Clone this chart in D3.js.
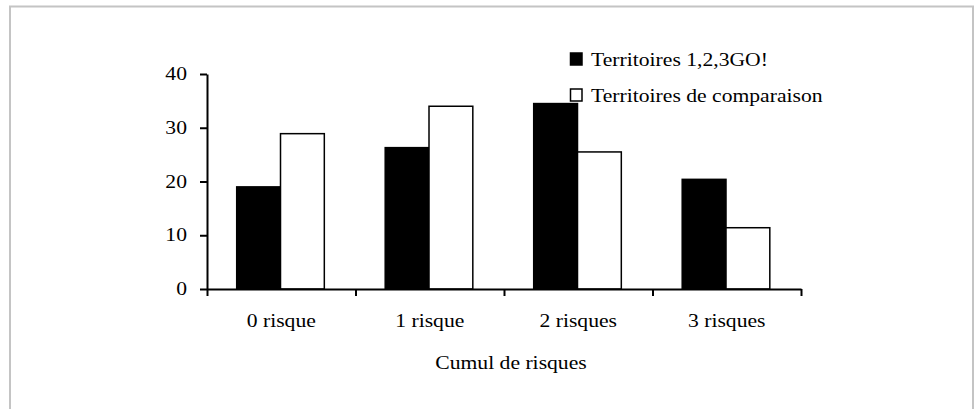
<!DOCTYPE html>
<html>
<head>
<meta charset="utf-8">
<script src="https://cdn.jsdelivr.net/npm/d3@7"></script>
<style>
  html, body { margin: 0; padding: 0; background: #fff; }
  svg text { font-family: "Liberation Serif", "Times New Roman", serif; fill: #000; }
</style>
</head>
<body>
<svg id="chart" width="976" height="409"></svg>
<script>
const categories = ["0 risque", "1 risque", "2 risques", "3 risques"];
const seriesNames = ["Territoires 1,2,3GO!", "Territoires de comparaison"];
const territoires123GO = [19, 26.3, 34.5, 20.4];
const territoiresComparaison = [28.9, 34, 25.5, 11.4];
const yTicks = [0, 10, 20, 30, 40];
const xTitle = "Cumul de risques";

(function () {
const seriesValues = [territoires123GO, territoiresComparaison];
const fills = ["#000", "#fff"];
const FS = 18.5, SX = 1.17;

const svg = d3.select("#chart");

// frame
svg.append("rect").attr("x", 10).attr("y", 6.5).attr("width", 963).attr("height", 500)
  .attr("fill", "none").attr("stroke", "#c4c4c4").attr("stroke-width", 2);

const pLeft = 207, pRight = 801, pTop = 74, pBottom = 289;
const x0 = d3.scaleBand().domain(categories).range([pLeft, pRight]).padding(0);
const bw = x0.bandwidth();
const x1 = d3.scaleBand().domain(seriesNames).range([0.2 * bw, 0.79 * bw]).padding(0);
const y = d3.scaleLinear().domain([0, 40]).range([pBottom, pTop]);

// bars
const groups = svg.append("g").selectAll("g").data(categories).join("g")
  .attr("transform", d => `translate(${x0(d)},0)`);
groups.selectAll("rect")
  .data((c, i) => seriesNames.map((s, j) => ({ s, v: seriesValues[j][i], j })))
  .join("rect")
  .attr("x", d => x1(d.s))
  .attr("width", x1.bandwidth())
  .attr("y", d => y(d.v))
  .attr("height", d => y(0) - y(d.v))
  .attr("fill", d => fills[d.j])
  .attr("stroke", "#000").attr("stroke-width", 1.5);

// y axis
const yAxis = svg.append("g").attr("transform", `translate(${pLeft},0)`)
  .call(d3.axisLeft(y).tickValues(yTicks).tickSizeInner(7).tickSizeOuter(0).tickPadding(13).tickFormat(d3.format("d")));
yAxis.select(".domain").attr("stroke", "#000").attr("stroke-width", 2);
yAxis.selectAll(".tick line").attr("stroke", "#000").attr("stroke-width", 2);
yAxis.selectAll("text").attr("font-size", FS).attr("font-family", "Liberation Serif").attr("fill", "#000")
  .attr("dy", "0.3em")
  .each(function () {
    const t = d3.select(this); const x = +t.attr("x");
    t.attr("transform", `translate(${x},0) scale(${SX},1) translate(${-x},0)`);
  });

// x axis ticks at band boundaries
const xb = d3.scaleLinear().domain([0, categories.length]).range([pLeft, pRight]);
const xTickAxis = svg.append("g").attr("transform", `translate(0,${pBottom})`)
  .call(d3.axisBottom(xb).tickValues(d3.range(categories.length + 1)).tickSizeInner(7).tickSizeOuter(0).tickFormat(""));
xTickAxis.select(".domain").attr("stroke", "#000").attr("stroke-width", 2);
xTickAxis.selectAll(".tick line").attr("stroke", "#000").attr("stroke-width", 2);

// x labels
const xLab = svg.append("g").attr("transform", `translate(0,${pBottom})`)
  .call(d3.axisBottom(x0).tickSize(0).tickPadding(32));
xLab.select(".domain").remove();
xLab.selectAll("text").attr("font-size", FS).attr("font-family", "Liberation Serif").attr("fill", "#000")
  .attr("dy", "0.3em")
  .attr("transform", `scale(${SX},1)`);

// x title
svg.append("text").attr("x", 0).attr("y", 0)
  .attr("transform", `translate(${(pLeft + pRight) / 2 + 7},369) scale(${SX},1)`)
  .attr("text-anchor", "middle").attr("font-size", FS).text(xTitle);

// legend
const leg = svg.append("g");
seriesNames.forEach((s, i) => {
  const ly = 53 + i * 36;
  leg.append("rect").attr("x", 570.5).attr("y", ly).attr("width", 11.5).attr("height", 12)
    .attr("fill", fills[i]).attr("stroke", "#000").attr("stroke-width", 1.5);
  leg.append("text").attr("x", 0).attr("y", 0)
    .attr("transform", `translate(591,${ly + 13}) scale(${SX},1)`)
    .attr("font-size", FS).text(s);
});
})();
</script>
</body>
</html>
